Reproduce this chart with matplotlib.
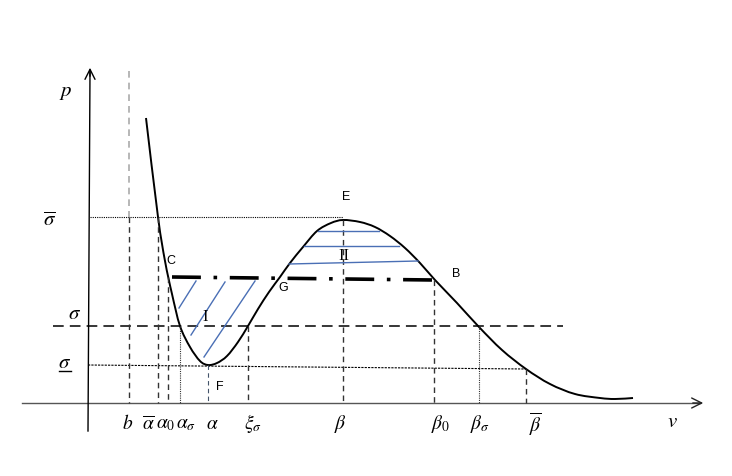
import matplotlib
matplotlib.use("Agg")
import matplotlib.pyplot as plt
from matplotlib.path import Path
from matplotlib.patches import PathPatch

# isotherm sketch in pixel coordinates (y grows downwards)
curve_x = [146, 158, 165, 172, 180, 190, 200, 208, 217, 227, 238, 248, 258, 269, 280,
           290, 303, 317, 331, 343, 360, 375, 390, 405, 420, 435, 457, 479, 502, 526,
           550, 575, 600, 615, 633]
curve_y = [119, 218, 262, 295, 327, 348, 362, 366, 364, 357, 343, 327, 310, 293, 278,
           264, 248, 232, 224, 221, 223, 228, 237, 249, 264, 281, 304, 328, 351, 370,
           385, 395, 399, 400, 399]

# pressure levels
sigma_bar = 218
sigma = 327
sigma_under = 366
p_chain = (278, 281)

# marked volumes on the v axis
v_names = ["b", "alpha_bar", "alpha0", "alpha_s", "alpha", "xi_s", "beta", "beta0", "beta_s", "beta_bar"]
v_pos = [129, 158, 168, 180, 208, 248, 343, 434, 479, 526]
v_top = [72, 218, 278, 327, 366, 327, 221, 281, 327, 370]
v_style = ["--", "--", "--", ":", "--", "--", "--", "--", ":", "--"]
v_labels = [r"$b$", r"$\overline{\alpha}$", r"$\alpha_0$", r"$\alpha_\sigma$", r"$\alpha$",
            r"$\xi_\sigma$", r"$\beta$", r"$\beta_0$", r"$\beta_\sigma$", r"$\overline{\beta}$"]
v_label_x = [128, 148, 166, 186, 212, 253, 340, 441, 480, 535]

# hatching of the two areas
hatch_I = [((196, 282), (179, 309)), ((225, 283), (191, 336)), ((255, 282), (204, 358))]
hatch_II = [((318, 232), (379, 232)), ((304, 247), (399, 247)), ((289, 265), (418, 262))]

points = ["E", "C", "G", "B", "F"]
points_xy = [(346, 197), (171, 261), (283, 288), (456, 274), (220, 387)]

AXIS_Y = 404
BLUE = "#4a6fb5"

plt.rcParams["mathtext.fontset"] = "stix"


def smooth_path(xs, ys):
    # catmull-rom through the read points, handed to matplotlib as cubic beziers
    verts = [(xs[0], ys[0])]
    codes = [Path.MOVETO]
    n = len(xs)
    for i in range(n - 1):
        x0, y0 = (xs[i - 1], ys[i - 1]) if i > 0 else (xs[i], ys[i])
        x1, y1 = xs[i], ys[i]
        x2, y2 = xs[i + 1], ys[i + 1]
        x3, y3 = (xs[i + 2], ys[i + 2]) if i + 2 < n else (x2, y2)
        verts += [(x1 + (x2 - x0) / 6, y1 + (y2 - y0) / 6),
                  (x2 - (x3 - x1) / 6, y2 - (y3 - y1) / 6),
                  (x2, y2)]
        codes += [Path.CURVE4] * 3
    return Path(verts, codes)


fig = plt.figure(figsize=(7.32, 4.77), dpi=100)
ax = fig.add_axes([0, 0, 1, 1])
ax.set_xlim(0, 732)
ax.set_ylim(477, 0)
ax.axis("off")

# axes with arrows
ax.plot([22, 700], [AXIS_Y, AXIS_Y], color="#555555", lw=1.0)
ax.annotate("", xy=(706, AXIS_Y), xytext=(690, AXIS_Y),
            arrowprops=dict(arrowstyle="->", color="#222222", lw=1.0, mutation_scale=18))
ax.plot([88, 90], [432, 72], color="black", lw=1.0)
ax.annotate("", xy=(90, 66), xytext=(90, 80),
            arrowprops=dict(arrowstyle="->", color="black", lw=1.0, mutation_scale=18))

# horizontal levels
ax.plot([90, 343], [sigma_bar, sigma_bar], color="black", lw=0.8, ls=(0, (1, 1)))
ax.plot([53, 563], [sigma, sigma], color="black", lw=1.1, ls=(0, (7, 4)))
ax.plot([88, 526], [sigma_under, 370], color="black", lw=0.8, ls=(0, (2, 1)))

# vertical markers
for i in range(len(v_pos)):
    col = "#333333"
    lw = 1.0
    if v_names[i] == "alpha":
        col = "#44546a"
        lw = 0.8
    if v_names[i] == "b":
        ax.plot([v_pos[i], v_pos[i]], [v_top[i], 218], color="#aaaaaa", lw=1.2, ls=(0, (4, 3)))
        ax.plot([v_pos[i], v_pos[i]], [218, AXIS_Y], color="#333333", lw=1.0, ls=(0, (4, 3)))
    elif v_style[i] == ":":
        ax.plot([v_pos[i], v_pos[i]], [v_top[i], AXIS_Y], color=col, lw=0.8, ls=(0, (1, 1)))
    else:
        ax.plot([v_pos[i], v_pos[i]], [v_top[i], AXIS_Y], color=col, lw=lw, ls=(0, (4, 3)))
    ax.text(v_label_x[i], 424, v_labels[i], fontsize=14, ha="center", va="center")

# hatching
for (a, b) in hatch_I + hatch_II:
    ax.plot([a[0], b[0]], [a[1], b[1]], color=BLUE, lw=1.0)

# the isotherm
ax.add_patch(PathPatch(smooth_path(curve_x, curve_y), facecolor="none",
                       edgecolor="black", lw=1.4))

# chain line (Maxwell line)
ax.plot([172, 433], list(p_chain), color="black", lw=2.6,
        ls=(0, (8, 3.5, 1, 3.5)))

# letters
for name, (x, y) in zip(points, points_xy):
    ax.text(x, y, name, fontsize=9, family="Liberation Sans", ha="center", va="center")
ax.text(205, 317, "I", fontsize=12, family="Liberation Serif", ha="center", va="center")
ax.text(344, 256, "II", fontsize=12, family="Liberation Serif", ha="center", va="center")

# left labels
ax.text(66, 92, r"$p$", fontsize=15, ha="center", va="center")
ax.text(50, 220, r"$\overline{\sigma}$", fontsize=15, ha="center", va="center")
ax.text(75, 313, r"$\sigma$", fontsize=15, ha="center", va="center")
ax.text(65, 362, r"$\sigma$", fontsize=15, ha="center", va="center")
ax.plot([59, 71], [372, 372], color="black", lw=1.0)
ax.text(672, 421, r"$v$", fontsize=15, ha="center", va="center")

fig.savefig("out.png", dpi=100)
